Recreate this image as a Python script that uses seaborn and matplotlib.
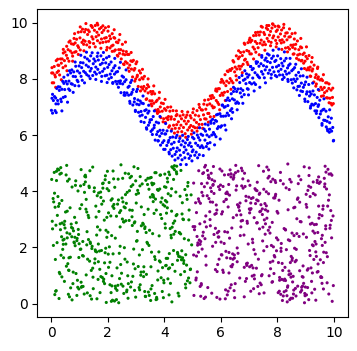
import matplotlib
matplotlib.use("Agg")
import matplotlib.pyplot as plt
import seaborn as sns
import pandas as pd

# upper band (red)
red_x = [
    0.02, 0.04, 0.06, 0.09, 0.11, 0.13, 0.15, 0.18,
    0.21, 0.24, 0.26, 0.27, 0.30, 0.33, 0.36, 0.39,
    0.42, 0.43, 0.47, 0.49, 0.51, 0.54, 0.55, 0.58,
    0.60, 0.63, 0.67, 0.68, 0.72, 0.74, 0.76, 0.79,
    0.81, 0.83, 0.85, 0.88, 0.90, 0.94, 0.96, 0.97,
    1.02, 1.03, 1.06, 1.09, 1.11, 1.14, 1.15, 1.18,
    1.20, 1.22, 1.26, 1.29, 1.31, 1.34, 1.35, 1.37,
    1.41, 1.44, 1.46, 1.48, 1.50, 1.53, 1.56, 1.59,
    1.62, 1.64, 1.65, 1.68, 1.71, 1.73, 1.77, 1.78,
    1.80, 1.83, 1.86, 1.89, 1.92, 1.94, 1.95, 1.98,
    2.01, 2.03, 2.07, 2.08, 2.10, 2.14, 2.16, 2.19,
    2.22, 2.23, 2.25, 2.27, 2.31, 2.34, 2.36, 2.39,
    2.40, 2.42, 2.46, 2.48, 2.52, 2.54, 2.55, 2.58,
    2.61, 2.63, 2.66, 2.69, 2.70, 2.73, 2.75, 2.78,
    2.82, 2.84, 2.87, 2.88, 2.91, 2.93, 2.96, 2.99,
    3.00, 3.04, 3.05, 3.08, 3.12, 3.13, 3.16, 3.19,
    3.21, 3.24, 3.25, 3.28, 3.30, 3.32, 3.37, 3.38,
    3.41, 3.43, 3.45, 3.49, 3.52, 3.54, 3.56, 3.57,
    3.60, 3.63, 3.66, 3.69, 3.71, 3.74, 3.75, 3.78,
    3.82, 3.83, 3.86, 3.88, 3.90, 3.93, 3.97, 3.98,
    4.01, 4.04, 4.06, 4.08, 4.12, 4.13, 4.15, 4.19,
    4.20, 4.24, 4.25, 4.27, 4.31, 4.33, 4.36, 4.39,
    4.42, 4.44, 4.45, 4.48, 4.50, 4.53, 4.56, 4.59,
    4.61, 4.62, 4.67, 4.68, 4.71, 4.74, 4.76, 4.78,
    4.80, 4.83, 4.85, 4.89, 4.92, 4.94, 4.95, 4.98,
    5.01, 5.03, 5.06, 5.09, 5.10, 5.14, 5.16, 5.18,
    5.22, 5.23, 5.25, 5.28, 5.31, 5.34, 5.35, 5.39,
    5.40, 5.43, 5.47, 5.48, 5.52, 5.54, 5.56, 5.58,
    5.61, 5.63, 5.66, 5.69, 5.70, 5.73, 5.75, 5.77,
    5.82, 5.84, 5.86, 5.89, 5.91, 5.93, 5.95, 5.98,
    6.00, 6.04, 6.07, 6.08, 6.11, 6.13, 6.15, 6.18,
    6.21, 6.24, 6.26, 6.29, 6.32, 6.33, 6.35, 6.38,
    6.40, 6.43, 6.46, 6.49, 6.51, 6.54, 6.55, 6.57,
    6.62, 6.64, 6.66, 6.68, 6.70, 6.73, 6.76, 6.79,
    6.81, 6.84, 6.85, 6.87, 6.92, 6.93, 6.96, 6.99,
    7.01, 7.03, 7.05, 7.08, 7.10, 7.14, 7.16, 7.19,
    7.22, 7.24, 7.25, 7.28, 7.31, 7.32, 7.36, 7.39,
    7.40, 7.43, 7.47, 7.48, 7.52, 7.53, 7.55, 7.58,
    7.61, 7.64, 7.66, 7.69, 7.70, 7.72, 7.76, 7.78,
    7.81, 7.84, 7.85, 7.87, 7.92, 7.94, 7.96, 7.98,
    8.00, 8.03, 8.06, 8.09, 8.11, 8.14, 8.15, 8.17,
    8.22, 8.23, 8.26, 8.29, 8.30, 8.34, 8.35, 8.38,
    8.41, 8.43, 8.46, 8.48, 8.52, 8.54, 8.57, 8.59,
    8.60, 8.63, 8.65, 8.68, 8.71, 8.72, 8.76, 8.79,
    8.82, 8.84, 8.86, 8.87, 8.90, 8.93, 8.95, 8.98,
    9.01, 9.04, 9.06, 9.09, 9.12, 9.13, 9.16, 9.18,
    9.21, 9.23, 9.25, 9.29, 9.30, 9.34, 9.37, 9.38,
    9.42, 9.43, 9.45, 9.48, 9.51, 9.54, 9.56, 9.59,
    9.60, 9.63, 9.66, 9.67, 9.71, 9.74, 9.75, 9.78,
    9.82, 9.83, 9.86, 9.89, 9.90, 9.93, 9.95, 9.98,
    # outer points of the band
    0.03, 0.16, 0.23, 0.36, 0.43, 0.56, 0.63, 0.76, 0.83, 0.96,
    1.03, 1.16, 1.23, 1.36, 1.43, 1.56, 1.63, 1.76, 1.83, 1.96,
    2.03, 2.16, 2.23, 2.36, 2.43, 2.56, 2.63, 2.76, 2.83, 2.96,
    3.03, 3.16, 3.23, 3.36, 3.43, 3.56, 3.63, 3.76, 3.83, 3.96,
    4.03, 4.16, 4.23, 4.36, 4.43, 4.56, 4.63, 4.76, 4.83, 4.96,
    5.03, 5.16, 5.23, 5.36, 5.43, 5.56, 5.63, 5.76, 5.83, 5.96,
    6.03, 6.16, 6.23, 6.36, 6.43, 6.56, 6.63, 6.76, 6.83, 6.96,
    7.03, 7.16, 7.23, 7.36, 7.43, 7.56, 7.63, 7.76, 7.83, 7.96,
    8.03, 8.16, 8.23, 8.36, 8.43, 8.56, 8.63, 8.76, 8.83, 8.96,
    9.03, 9.16, 9.23, 9.36, 9.43, 9.56, 9.63, 9.76, 9.83, 9.96,
]
red_y = [
    8.21, 7.86, 8.21, 7.86, 8.44, 8.14, 8.07, 8.65,
    8.23, 8.49, 8.28, 8.48, 8.14, 8.71, 8.56, 8.71,
    8.40, 8.92, 8.65, 8.96, 8.46, 8.84, 9.16, 8.73,
    9.04, 8.63, 9.35, 8.99, 9.25, 8.92, 8.81, 9.23,
    9.44, 8.95, 9.28, 8.97, 9.41, 9.18, 9.66, 9.12,
    9.46, 9.03, 9.68, 9.30, 9.77, 9.38, 9.23, 9.67,
    9.34, 9.76, 9.21, 9.58, 9.74, 9.33, 9.68, 9.29,
    9.90, 9.50, 9.83, 9.42, 9.26, 9.73, 9.90, 9.50,
    9.66, 9.36, 9.92, 9.56, 9.78, 9.28, 9.83, 9.42,
    9.65, 9.30, 9.73, 9.45, 9.82, 9.32, 9.47, 9.12,
    9.70, 9.34, 9.53, 9.10, 9.43, 9.17, 9.61, 9.20,
    9.47, 8.99, 9.45, 9.03, 9.31, 8.84, 9.29, 9.04,
    9.38, 8.91, 9.04, 8.71, 9.23, 8.88, 8.99, 8.51,
    8.86, 8.61, 8.97, 8.56, 8.87, 8.39, 8.87, 8.49,
    8.64, 8.35, 8.62, 8.07, 8.66, 8.31, 8.37, 8.00,
    8.54, 8.08, 8.13, 7.73, 8.29, 7.97, 8.21, 7.71,
    8.04, 7.64, 8.00, 7.73, 8.09, 7.57, 7.66, 7.29,
    7.79, 7.50, 7.72, 7.22, 7.55, 7.11, 7.46, 7.22,
    7.55, 7.13, 7.47, 6.89, 7.19, 6.84, 7.24, 6.91,
    7.31, 6.83, 7.00, 6.62, 7.14, 6.85, 7.12, 6.58,
    6.94, 6.45, 6.88, 6.61, 6.99, 6.55, 6.66, 6.33,
    6.85, 6.57, 6.65, 6.21, 6.87, 6.35, 6.56, 6.24,
    6.69, 6.37, 6.73, 6.11, 6.47, 6.24, 6.68, 6.35,
    6.58, 6.12, 6.72, 6.27, 6.50, 6.05, 6.63, 6.40,
    6.71, 6.18, 6.49, 6.27, 6.69, 6.34, 6.61, 6.16,
    6.80, 6.30, 6.54, 6.26, 6.71, 6.45, 6.87, 6.26,
    6.68, 6.38, 6.98, 6.55, 6.90, 6.38, 6.89, 6.72,
    7.10, 6.58, 6.92, 6.57, 7.07, 6.77, 7.26, 6.77,
    7.11, 6.65, 7.30, 7.04, 7.41, 6.97, 7.33, 6.99,
    7.58, 7.23, 7.56, 7.16, 7.65, 7.09, 7.65, 7.41,
    7.88, 7.49, 7.92, 7.42, 7.85, 7.52, 8.15, 7.76,
    7.92, 7.55, 8.26, 7.86, 8.33, 8.01, 8.30, 7.93,
    8.37, 7.86, 8.60, 8.25, 8.42, 8.11, 8.82, 8.35,
    8.72, 8.45, 8.78, 8.35, 8.94, 8.45, 8.83, 8.52,
    8.96, 8.67, 9.23, 8.70, 9.01, 8.59, 9.29, 8.98,
    9.38, 8.89, 9.31, 8.89, 9.37, 9.13, 9.54, 9.06,
    9.33, 8.95, 9.55, 9.26, 9.66, 9.11, 9.56, 9.27,
    9.67, 9.38, 9.84, 9.21, 9.65, 9.31, 9.58, 9.22,
    9.81, 9.44, 9.76, 9.34, 9.90, 9.56, 9.69, 9.30,
    9.81, 9.46, 9.94, 9.53, 9.87, 9.37, 9.69, 9.26,
    9.74, 9.49, 9.85, 9.37, 9.60, 9.28, 9.74, 9.39,
    9.82, 9.31, 9.52, 9.10, 9.63, 9.39, 9.64, 9.12,
    9.49, 9.06, 9.50, 9.20, 9.61, 9.12, 9.21, 8.89,
    9.42, 9.07, 9.23, 8.73, 9.35, 8.85, 9.04, 8.88,
    9.14, 8.64, 9.11, 8.66, 8.87, 8.56, 8.92, 8.63,
    8.80, 8.32, 8.72, 8.39, 8.83, 8.32, 8.42, 8.09,
    8.60, 8.28, 8.35, 7.89, 8.49, 8.05, 8.15, 7.82,
    8.37, 8.00, 8.07, 7.59, 7.96, 7.70, 7.99, 7.62,
    7.94, 7.40, 7.69, 7.51, 7.86, 7.33, 7.57, 7.32,
    7.66, 7.15, 7.31, 7.13, 7.60, 7.07, 7.34, 7.12,
    # outer points of the band
    8.40, 7.70, 8.70, 7.97, 9.05, 8.29, 9.31, 8.63, 9.61, 8.87,
    9.85, 9.00, 9.97, 9.13, 9.88, 9.14, 9.98, 9.09, 9.89, 9.03,
    9.86, 8.98, 9.75, 8.81, 9.58, 8.53, 9.31, 8.27, 8.94, 7.92,
    8.61, 7.57, 8.34, 7.27, 8.00, 7.04, 7.75, 6.77, 7.52, 6.47,
    7.27, 6.28, 7.00, 6.07, 6.86, 5.94, 6.84, 5.92, 6.82, 6.03,
    6.93, 6.14, 7.09, 6.24, 7.24, 6.46, 7.39, 6.66, 7.64, 6.90,
    7.98, 7.23, 8.28, 7.63, 8.65, 7.96, 9.00, 8.22, 9.27, 8.51,
    9.45, 8.71, 9.65, 8.86, 9.87, 9.02, 9.90, 9.18, 9.96, 9.14,
    9.88, 9.05, 9.94, 8.96, 9.78, 8.88, 9.63, 8.68, 9.44, 8.37,
    9.14, 8.10, 8.76, 7.74, 8.42, 7.38, 8.15, 7.86, 7.82, 7.67,
]

# lower band (blue)
blue_x = [
    0.01, 0.03, 0.05, 0.08, 0.12, 0.14, 0.16, 0.17,
    0.20, 0.23, 0.25, 0.29, 0.31, 0.34, 0.36, 0.38,
    0.41, 0.43, 0.45, 0.48, 0.50, 0.52, 0.57, 0.59,
    0.62, 0.63, 0.66, 0.69, 0.71, 0.73, 0.75, 0.78,
    0.80, 0.84, 0.86, 0.87, 0.92, 0.93, 0.95, 0.99,
    1.01, 1.04, 1.06, 1.08, 1.10, 1.13, 1.15, 1.19,
    1.21, 1.24, 1.26, 1.28, 1.32, 1.33, 1.35, 1.38,
    1.40, 1.42, 1.47, 1.49, 1.51, 1.54, 1.56, 1.58,
    1.60, 1.63, 1.65, 1.67, 1.72, 1.74, 1.76, 1.79,
    1.81, 1.82, 1.85, 1.88, 1.91, 1.93, 1.96, 1.97,
    2.00, 2.04, 2.05, 2.09, 2.12, 2.13, 2.15, 2.18,
    2.21, 2.24, 2.26, 2.28, 2.30, 2.33, 2.35, 2.38,
    2.41, 2.44, 2.45, 2.47, 2.51, 2.53, 2.56, 2.59,
    2.60, 2.62, 2.65, 2.68, 2.72, 2.74, 2.76, 2.79,
    2.81, 2.83, 2.86, 2.89, 2.90, 2.94, 2.95, 2.98,
    3.02, 3.03, 3.07, 3.09, 3.11, 3.14, 3.15, 3.18,
    3.20, 3.22, 3.26, 3.29, 3.31, 3.34, 3.36, 3.37,
    3.42, 3.44, 3.46, 3.48, 3.50, 3.53, 3.55, 3.58,
    3.61, 3.64, 3.65, 3.68, 3.72, 3.73, 3.77, 3.79,
    3.80, 3.84, 3.85, 3.87, 3.91, 3.94, 3.96, 3.99,
    4.02, 4.03, 4.05, 4.09, 4.10, 4.14, 4.16, 4.17,
    4.21, 4.23, 4.26, 4.28, 4.30, 4.32, 4.35, 4.38,
    4.41, 4.43, 4.46, 4.49, 4.52, 4.54, 4.55, 4.57,
    4.60, 4.63, 4.66, 4.69, 4.71, 4.73, 4.75, 4.77,
    4.82, 4.84, 4.86, 4.88, 4.91, 4.93, 4.96, 4.99,
    5.00, 5.02, 5.05, 5.08, 5.11, 5.13, 5.17, 5.19,
    5.21, 5.24, 5.26, 5.27, 5.30, 5.33, 5.36, 5.38,
    5.41, 5.44, 5.46, 5.49, 5.51, 5.53, 5.55, 5.59,
    5.60, 5.62, 5.65, 5.68, 5.71, 5.74, 5.76, 5.78,
    5.81, 5.83, 5.85, 5.88, 5.90, 5.92, 5.97, 5.99,
    6.01, 6.03, 6.06, 6.09, 6.12, 6.14, 6.16, 6.17,
    6.20, 6.23, 6.25, 6.28, 6.31, 6.34, 6.37, 6.39,
    6.41, 6.42, 6.45, 6.48, 6.50, 6.53, 6.56, 6.58,
    6.61, 6.63, 6.67, 6.69, 6.71, 6.74, 6.75, 6.78,
    6.80, 6.83, 6.86, 6.89, 6.91, 6.94, 6.95, 6.97,
    7.00, 7.02, 7.06, 7.09, 7.11, 7.13, 7.15, 7.18,
    7.21, 7.23, 7.26, 7.29, 7.30, 7.33, 7.35, 7.37,
    7.42, 7.44, 7.45, 7.49, 7.51, 7.54, 7.56, 7.57,
    7.60, 7.62, 7.65, 7.68, 7.71, 7.73, 7.75, 7.79,
    7.80, 7.83, 7.86, 7.88, 7.91, 7.93, 7.95, 7.97,
    8.01, 8.04, 8.05, 8.08, 8.12, 8.13, 8.16, 8.19,
    8.20, 8.24, 8.25, 8.28, 8.31, 8.33, 8.36, 8.37,
    8.40, 8.42, 8.45, 8.49, 8.51, 8.53, 8.56, 8.58,
    8.61, 8.64, 8.66, 8.69, 8.70, 8.73, 8.75, 8.78,
    8.81, 8.83, 8.85, 8.89, 8.91, 8.92, 8.96, 8.97,
    9.00, 9.03, 9.05, 9.08, 9.11, 9.14, 9.15, 9.17,
    9.20, 9.22, 9.26, 9.28, 9.31, 9.33, 9.35, 9.39,
    9.41, 9.44, 9.46, 9.47, 9.50, 9.52, 9.55, 9.58,
    9.61, 9.64, 9.65, 9.69, 9.72, 9.73, 9.76, 9.77,
    9.80, 9.84, 9.85, 9.87, 9.91, 9.92, 9.96, 9.99,
    # outer points of the band
    0.05, 0.18, 0.25, 0.38, 0.45, 0.58, 0.65, 0.78, 0.85, 0.98,
    1.05, 1.18, 1.25, 1.38, 1.45, 1.58, 1.65, 1.78, 1.85, 1.98,
    2.05, 2.18, 2.25, 2.38, 2.45, 2.58, 2.65, 2.78, 2.85, 2.98,
    3.05, 3.18, 3.25, 3.38, 3.45, 3.58, 3.65, 3.78, 3.85, 3.98,
    4.05, 4.18, 4.25, 4.38, 4.45, 4.58, 4.65, 4.78, 4.85, 4.98,
    5.05, 5.18, 5.25, 5.38, 5.45, 5.58, 5.65, 5.78, 5.85, 5.98,
    6.05, 6.18, 6.25, 6.38, 6.45, 6.58, 6.65, 6.78, 6.85, 6.98,
    7.05, 7.18, 7.25, 7.38, 7.45, 7.58, 7.65, 7.78, 7.85, 7.98,
    8.05, 8.18, 8.25, 8.38, 8.45, 8.58, 8.65, 8.78, 8.85, 8.98,
    9.05, 9.18, 9.25, 9.38, 9.45, 9.58, 9.65, 9.78, 9.85, 9.98,
]
blue_y = [
    6.88, 7.31, 6.78, 7.23, 7.37, 6.87, 7.32, 7.11,
    7.66, 7.23, 7.11, 7.59, 7.71, 7.28, 7.19, 7.63,
    7.91, 7.34, 7.84, 7.62, 7.37, 7.91, 7.82, 8.14,
    7.64, 7.92, 7.59, 8.21, 7.83, 8.32, 7.81, 8.09,
    8.25, 7.76, 8.08, 8.45, 7.95, 8.28, 7.90, 8.46,
    8.21, 8.58, 8.09, 8.40, 7.95, 8.57, 8.27, 8.77,
    8.22, 8.49, 8.15, 8.71, 8.43, 8.10, 8.64, 8.28,
    8.82, 8.37, 8.12, 8.54, 8.71, 8.24, 8.63, 8.42,
    8.17, 8.80, 8.34, 8.67, 8.22, 8.51, 8.82, 8.09,
    8.56, 8.27, 8.69, 8.36, 8.11, 8.57, 8.75, 8.13,
    8.41, 8.00, 8.51, 8.17, 8.60, 8.05, 8.29, 7.87,
    8.39, 8.17, 8.47, 7.91, 8.24, 7.82, 8.26, 7.91,
    8.39, 7.84, 7.93, 7.51, 8.10, 7.82, 8.06, 7.51,
    7.90, 7.42, 7.97, 7.50, 7.70, 7.42, 7.74, 7.13,
    7.87, 7.45, 7.52, 7.07, 7.62, 7.18, 7.30, 6.88,
    7.55, 7.10, 7.25, 6.81, 7.08, 6.68, 7.21, 6.84,
    7.14, 6.71, 7.12, 6.45, 6.87, 6.63, 6.90, 6.26,
    6.78, 6.35, 6.85, 6.45, 6.54, 6.13, 6.55, 6.19,
    6.66, 6.26, 6.35, 5.82, 6.46, 6.02, 6.12, 5.80,
    6.43, 5.96, 6.17, 5.64, 6.06, 5.73, 6.17, 5.80,
    6.04, 5.49, 6.04, 5.63, 6.15, 5.74, 5.81, 5.39,
    5.91, 5.48, 5.68, 5.25, 5.93, 5.53, 5.74, 5.31,
    5.91, 5.41, 5.54, 5.18, 5.77, 5.46, 5.88, 5.28,
    5.65, 5.12, 5.79, 5.38, 5.58, 5.19, 5.72, 5.47,
    5.84, 5.33, 5.64, 5.17, 5.72, 5.26, 5.59, 5.41,
    5.92, 5.47, 5.87, 5.28, 5.71, 5.39, 6.00, 5.63,
    5.91, 5.30, 5.82, 5.56, 6.03, 5.62, 5.99, 5.55,
    6.21, 5.82, 6.14, 5.59, 6.00, 5.70, 6.36, 5.94,
    6.21, 5.73, 6.42, 6.00, 6.56, 6.09, 6.42, 6.02,
    6.52, 5.94, 6.49, 6.23, 6.74, 6.30, 6.76, 6.28,
    6.67, 6.33, 7.07, 6.67, 6.99, 6.35, 7.01, 6.68,
    7.24, 6.78, 7.05, 6.70, 7.23, 6.87, 7.47, 6.94,
    7.29, 6.81, 7.55, 7.25, 7.65, 7.13, 7.55, 7.18,
    7.64, 7.13, 7.87, 7.50, 7.65, 7.36, 8.12, 7.59,
    7.95, 7.44, 7.99, 7.83, 8.18, 7.65, 8.06, 7.63,
    8.14, 7.87, 8.44, 7.82, 8.33, 8.03, 8.37, 7.86,
    8.22, 7.80, 8.55, 8.14, 8.60, 8.08, 8.45, 8.04,
    8.54, 8.26, 8.77, 8.17, 8.47, 8.04, 8.67, 8.32,
    8.74, 8.43, 8.62, 8.20, 8.85, 8.31, 8.58, 8.16,
    8.73, 8.41, 8.81, 8.25, 8.62, 8.12, 8.66, 8.43,
    8.82, 8.27, 8.48, 8.14, 8.72, 8.34, 8.56, 8.14,
    8.46, 8.05, 8.64, 8.27, 8.73, 8.17, 8.39, 7.98,
    8.48, 8.21, 8.53, 7.97, 8.29, 7.85, 8.34, 7.99,
    8.40, 7.91, 8.13, 7.61, 8.00, 7.73, 8.23, 7.74,
    8.10, 7.57, 7.85, 7.55, 8.11, 7.70, 7.79, 7.28,
    7.89, 7.46, 7.54, 7.19, 7.80, 7.39, 7.54, 6.96,
    7.46, 7.10, 7.57, 7.07, 7.43, 6.86, 7.12, 6.86,
    7.34, 7.02, 7.08, 6.62, 7.24, 6.75, 6.85, 6.35,
    6.90, 6.53, 6.92, 6.52, 6.85, 6.29, 6.49, 6.21,
    6.65, 6.10, 6.44, 6.21, 6.60, 6.14, 6.27, 5.81,
    # outer points of the band
    7.45, 6.80, 7.72, 6.86, 8.06, 7.17, 8.29, 7.52, 8.60, 7.75,
    8.84, 7.86, 8.95, 8.01, 8.93, 7.98, 8.92, 7.91, 8.94, 7.87,
    8.80, 7.84, 8.73, 7.70, 8.59, 7.42, 8.32, 7.20, 7.95, 6.84,
    7.63, 6.48, 7.39, 6.21, 7.06, 6.02, 6.86, 5.79, 6.66, 5.49,
    6.41, 5.33, 6.14, 5.11, 5.99, 4.95, 5.99, 4.95, 5.95, 5.08,
    6.08, 5.19, 6.26, 5.27, 6.39, 5.50, 6.50, 5.65, 6.72, 5.86,
    7.06, 6.18, 7.32, 6.58, 7.70, 6.90, 8.05, 7.13, 8.29, 7.43,
    8.44, 7.57, 8.61, 7.70, 8.83, 7.86, 8.89, 8.03, 9.02, 8.08,
    9.06, 7.98, 8.96, 7.91, 8.73, 7.68, 8.52, 7.41, 8.36, 7.20,
    8.06, 7.03, 7.85, 6.77, 7.62, 6.41, 7.29, 6.15, 6.90, 5.79,
]

# lower-left block (green)
green_x = [
    3.41, 0.87, 2.15, 4.62, 1.08, 3.97, 0.23, 2.76, 4.05, 1.59,
    2.33, 4.81, 0.46, 1.92, 3.18, 0.71, 4.27, 2.58, 1.34, 3.66,
    0.12, 2.97, 4.44, 1.73, 3.05, 0.95, 2.41, 4.13, 1.26, 3.82,
    4.69, 1.47, 0.38, 3.29, 2.06, 4.91, 1.85, 0.64, 3.53, 2.87,
    1.16, 3.74, 2.22, 0.05, 4.36, 2.69, 0.81, 3.11, 1.63, 4.58,
    2.94, 0.29, 4.07, 1.38, 3.46, 2.11, 4.75, 0.57, 1.99, 3.23,
    0.93, 3.59, 1.21, 4.48, 2.52, 0.16, 3.87, 1.67, 4.19, 2.38,
    4.02, 1.94, 3.32, 0.74, 2.81, 4.56, 1.05, 3.71, 0.42, 2.17,
    1.78, 4.33, 0.61, 2.64, 3.92, 1.29, 4.86, 2.03, 0.34, 3.48,
    3.15, 0.08, 2.46, 4.22, 1.54, 3.63, 0.89, 2.72, 4.64, 1.11,
    2.57, 4.95, 1.42, 0.27, 3.36, 2.89, 4.11, 0.68, 1.83, 3.02,
    0.49, 2.28, 3.79, 1.69, 4.47, 0.97, 2.13, 3.54, 1.31, 4.29,
    3.88, 1.03, 4.71, 2.36, 0.19, 3.27, 1.76, 4.03, 2.67, 0.55,
    1.47, 3.14, 0.83, 4.54, 2.99, 1.18, 3.68, 0.31, 2.44, 4.82,
    4.26, 2.08, 1.61, 3.43, 0.72, 4.17, 2.53, 1.24, 3.96, 0.04,
    2.71, 0.37, 3.85, 1.89, 4.63, 2.19, 0.98, 3.31, 1.57, 4.41,
    0.66, 4.09, 2.31, 3.58, 1.14, 0.43, 4.88, 2.84, 3.07, 1.72,
    3.62, 1.36, 4.32, 0.18, 2.62, 3.91, 1.93, 0.79, 4.52, 2.25,
    1.09, 2.79, 0.54, 4.14, 3.39, 1.66, 2.05, 4.76, 0.26, 3.19,
    4.43, 0.91, 3.01, 2.49, 1.28, 4.68, 0.63, 3.76, 2.14, 1.81,
    2.02, 3.47, 1.53, 0.33, 4.23, 2.91, 0.77, 3.64, 1.19, 4.97,
    0.22, 4.59, 2.68, 1.44, 3.26, 0.58, 4.04, 2.39, 3.83, 1.02,
    3.34, 1.71, 0.14, 2.93, 4.38, 1.27, 3.57, 0.86, 2.56, 4.12,
    1.88, 4.26, 3.12, 0.69, 2.21, 4.79, 1.39, 3.94, 0.47, 2.74,
    4.84, 2.42, 0.96, 3.69, 1.56, 0.28, 2.86, 4.31, 1.97, 3.37,
    0.59, 3.06, 4.49, 1.12, 2.66, 3.81, 0.11, 2.27, 4.66, 1.64,
    2.35, 0.82, 1.91, 4.07, 3.52, 2.12, 4.93, 0.39, 3.22, 1.49,
    3.99, 1.23, 2.59, 0.53, 4.34, 1.76, 3.09, 4.61, 0.92, 2.83,
    1.32, 4.72, 0.24, 3.44, 2.04, 0.76, 3.73, 1.58, 4.18, 2.47,
    4.11, 2.96, 1.07, 2.31, 0.44, 3.56, 4.53, 1.86, 0.07, 3.28,
    0.88, 3.67, 4.24, 1.62, 2.78, 0.35, 1.98, 4.87, 3.13, 2.54,
    2.63, 1.17, 3.41, 4.39, 0.62, 2.18, 3.89, 1.06, 4.57, 0.99,
    3.53, 0.17, 2.08, 1.52, 4.02, 3.33, 0.73, 2.92, 1.35, 4.45,
    1.94, 4.06, 0.51, 3.17, 2.48, 1.22, 4.79, 3.61, 0.32, 2.24,
    4.36, 2.61, 3.77, 0.84, 1.68, 4.92, 2.37, 0.13, 3.46, 1.79,
    0.41, 1.97, 4.16, 2.73, 3.04, 0.67, 1.43, 4.28, 2.99, 3.86,
    2.87, 3.93, 1.26, 0.02, 4.47, 2.15, 3.58, 1.84, 0.78, 4.21,
    3.71, 0.56, 2.51, 4.65, 1.04, 3.24, 0.94, 2.46, 4.08, 1.37,
    1.61, 4.44, 0.31, 2.22, 3.66, 1.91, 4.01, 0.48, 3.15, 2.69,
    4.73, 2.33, 3.87, 1.45, 0.19, 2.95, 1.73, 3.51, 4.33, 0.65,
    0.98, 3.19, 1.85, 4.12, 2.58, 0.38, 3.78, 2.12, 1.21, 4.86,
    2.16, 0.74, 4.58, 3.08, 1.33, 4.27, 0.21, 2.77, 3.98, 1.55,
    3.27, 1.82, 0.09, 2.44, 4.69, 1.13, 3.42, 4.15, 0.57, 2.01,
    1.38, 4.51, 2.84, 0.91, 3.61, 2.27, 1.06, 4.42, 3.35, 0.29,
    4.19, 0.46, 3.31, 1.75, 2.03, 4.83, 2.62, 0.85, 1.48, 3.72,
    0.63, 2.54, 4.37, 3.49, 1.24, 0.15, 4.04, 1.95, 2.89, 3.55,
    2.42, 3.84, 1.67, 0.52, 4.76, 3.01, 0.36, 2.19, 4.25, 1.89,
]
green_y = [
    2.14, 4.37, 0.63, 1.88, 3.52, 0.21, 4.79, 2.96, 1.35, 3.08,
    0.47, 3.71, 2.29, 4.55, 1.12, 2.83, 0.06, 3.44, 4.18, 1.67,
    3.93, 1.24, 4.62, 0.39, 2.57, 4.01, 1.79, 0.88, 3.26, 2.41,
    1.53, 4.86, 0.95, 3.17, 2.02, 0.74, 3.65, 4.43, 1.31, 2.78,
    4.24, 0.16, 3.39, 2.66, 4.91, 1.48, 2.19, 0.57, 3.84, 1.03,
    2.87, 3.56, 1.61, 0.28, 4.07, 3.12, 0.69, 2.34, 4.71, 1.92,
    0.83, 2.49, 4.33, 1.76, 3.01, 0.44, 4.58, 2.12, 1.27, 3.69,
    3.47, 1.07, 2.73, 4.15, 0.59, 3.82, 1.94, 4.66, 2.26, 0.12,
    1.89, 4.42, 0.33, 2.95, 3.76, 1.58, 0.91, 3.23, 4.84, 2.61,
    4.52, 2.07, 3.31, 0.72, 1.44, 4.27, 2.88, 0.19, 3.59, 1.71,
    0.36, 3.87, 1.18, 4.76, 2.53, 0.97, 3.41, 1.65, 4.11, 2.22,
    2.69, 0.54, 4.03, 3.28, 1.82, 2.46, 0.08, 4.49, 3.14, 1.39,
    3.61, 1.93, 2.31, 0.65, 4.38, 1.13, 3.78, 2.84, 0.42, 4.92,
    1.26, 4.19, 3.07, 2.52, 0.23, 3.96, 1.57, 4.61, 2.04, 0.81,
    4.09, 0.67, 1.84, 3.36, 2.71, 0.31, 4.46, 1.02, 3.52, 2.93,
    0.99, 2.38, 4.57, 1.45, 3.19, 4.72, 0.52, 2.67, 1.86, 3.97,
    2.48, 3.62, 0.14, 4.23, 1.69, 2.11, 3.33, 0.77, 4.81, 1.22,
    3.79, 1.51, 2.86, 0.46, 4.64, 3.03, 1.97, 2.59, 0.27, 4.14,
    0.61, 4.48, 1.33, 3.91, 2.18, 0.86, 4.31, 1.74, 3.46, 2.77,
    4.69, 2.24, 3.58, 1.08, 0.38, 2.99, 1.63, 4.06, 2.42, 0.93,
    1.76, 0.29, 4.12, 2.63, 3.84, 1.41, 0.71, 3.21, 4.53, 2.09,
    3.14, 4.74, 0.48, 1.96, 2.82, 4.36, 3.67, 0.03, 1.52, 3.38,
    0.25, 1.87, 3.43, 4.87, 1.15, 2.56, 0.64, 4.21, 2.91, 1.61,
    2.97, 3.29, 1.73, 0.56, 4.44, 3.86, 2.14, 1.28, 0.79, 4.62,
    4.31, 0.89, 2.64, 3.72, 1.91, 0.18, 3.09, 4.83, 2.36, 1.04,
    1.42, 4.03, 0.37, 2.21, 3.57, 1.84, 4.67, 0.62, 3.01, 2.73,
    3.54, 2.16, 4.41, 1.36, 0.11, 3.68, 1.23, 2.87, 4.26, 0.53,
    0.74, 3.36, 1.99, 4.58, 2.47, 0.96, 3.93, 1.56, 2.32, 4.17,
    2.28, 1.14, 3.81, 0.41, 4.02, 2.68, 0.22, 3.47, 1.78, 4.94,
    4.46, 2.91, 0.58, 3.11, 1.63, 4.29, 2.53, 0.87, 3.74, 1.31,
    1.07, 4.66, 2.43, 0.17, 3.33, 1.72, 4.09, 2.98, 0.49, 3.62,
    3.88, 0.34, 4.24, 2.57, 1.19, 3.46, 0.92, 4.77, 1.66, 2.13,
    0.52, 2.79, 1.47, 3.99, 4.61, 0.26, 2.38, 1.94, 4.13, 3.17,
    2.61, 4.14, 3.26, 1.01, 0.69, 4.51, 1.37, 3.63, 2.84, 0.09,
    4.77, 1.58, 0.84, 2.36, 3.94, 1.21, 4.43, 0.32, 2.07, 3.54,
    1.93, 3.07, 4.68, 0.71, 2.24, 3.41, 0.16, 2.72, 4.37, 1.48,
    3.32, 0.43, 2.09, 4.42, 1.54, 0.99, 3.88, 4.29, 1.12, 2.67,
    0.14, 2.52, 3.76, 1.63, 4.19, 2.86, 0.58, 1.39, 3.22, 4.73,
    2.44, 4.89, 1.06, 3.53, 0.36, 1.81, 4.16, 2.93, 0.67, 3.96,
    4.06, 1.27, 3.17, 2.04, 4.71, 0.47, 2.62, 3.79, 1.89, 0.24,
    1.64, 3.44, 0.79, 4.33, 2.91, 3.67, 1.16, 0.39, 4.57, 2.26,
    3.73, 0.13, 2.48, 1.32, 3.06, 4.87, 2.17, 4.02, 0.83, 1.59,
    0.96, 4.27, 3.62, 2.73, 1.43, 0.61, 4.46, 1.24, 3.29, 2.54,
    2.19, 1.68, 4.53, 0.29, 3.86, 2.33, 0.76, 3.13, 4.39, 1.11,
    4.59, 2.81, 0.43, 3.97, 1.29, 4.18, 3.41, 2.06, 0.94, 3.33,
    1.18, 0.62, 2.94, 4.47, 3.71, 1.57, 2.69, 0.04, 4.23, 1.83,
    3.24, 4.08, 1.49, 2.12, 0.56, 3.89, 4.64, 1.77, 2.34, 0.71,
]

# lower-right block (purple)
purple_x = [
    7.38, 5.12, 9.46, 6.21, 8.77, 5.64, 9.03, 7.91, 6.58, 8.24,
    5.87, 9.72, 6.93, 8.31, 7.06, 5.29, 8.95, 6.42, 9.58, 7.63,
    8.49, 6.14, 5.41, 9.27, 7.75, 8.08, 6.66, 9.89, 5.18, 7.22,
    6.37, 8.62, 9.14, 5.73, 7.49, 6.89, 8.41, 5.05, 9.66, 7.97,
    9.31, 7.14, 5.96, 8.86, 6.03, 9.79, 7.57, 6.48, 8.18, 5.52,
    5.33, 8.03, 7.68, 6.29, 9.41, 5.81, 8.54, 7.01, 6.72, 9.93,
    7.84, 6.56, 9.12, 5.24, 8.37, 7.29, 5.69, 9.54, 6.11, 8.91,
    6.04, 9.37, 8.26, 7.42, 5.47, 6.83, 9.84, 8.69, 5.92, 7.16,
    8.97, 5.58, 6.31, 9.69, 7.88, 5.14, 8.13, 6.97, 9.21, 7.54,
    5.76, 7.33, 9.48, 8.44, 6.19, 7.79, 5.36, 9.06, 8.58, 6.67,
    9.16, 6.46, 7.09, 5.63, 8.82, 9.74, 6.24, 7.47, 5.04, 8.35,
    7.52, 8.89, 5.28, 6.78, 9.33, 7.11, 8.46, 5.97, 6.39, 9.61,
    6.86, 5.43, 8.21, 9.52, 7.36, 6.02, 9.97, 8.07, 7.71, 5.82,
    8.29, 7.04, 6.61, 5.16, 9.09, 8.74, 5.54, 6.94, 9.44, 7.27,
    5.49, 9.24, 7.93, 8.57, 6.27, 5.88, 7.61, 9.77, 6.49, 8.11,
    9.62, 6.73, 5.34, 7.18, 8.93, 6.36, 9.18, 5.71, 8.39, 7.44,
    7.02, 8.48, 9.86, 6.08, 5.61, 8.16, 7.86, 6.53, 5.21, 9.29,
    6.44, 5.93, 8.71, 9.41, 7.58, 9.02, 6.17, 8.32, 7.24, 5.07,
    8.64, 7.69, 6.34, 5.39, 9.57, 7.13, 5.78, 9.94, 6.82, 8.02,
    5.19, 9.08, 7.39, 8.81, 6.64, 5.53, 8.27, 7.07, 9.36, 6.23,
    9.81, 6.91, 8.44, 7.31, 5.27, 9.47, 6.42, 8.76, 5.68, 7.82,
    7.46, 5.08, 6.71, 9.13, 8.52, 6.26, 7.94, 5.44, 9.68, 8.19,
    6.13, 8.34, 9.59, 5.86, 7.21, 8.67, 5.31, 6.99, 8.04, 9.26,
    8.86, 7.56, 5.74, 6.48, 9.91, 7.03, 8.59, 6.16, 5.47, 7.67,
    5.62, 9.38, 8.12, 7.77, 6.09, 5.23, 9.71, 8.42, 7.19, 6.58,
    9.04, 6.36, 7.48, 5.13, 8.73, 9.63, 6.74, 5.94, 8.28, 7.34,
    7.89, 8.96, 6.22, 9.32, 5.58, 7.12, 8.41, 9.78, 6.51, 5.37,
    6.79, 5.26, 9.19, 8.06, 7.53, 6.33, 5.84, 8.88, 9.52, 7.97,
    8.23, 7.41, 5.66, 6.92, 9.43, 8.53, 7.28, 5.02, 6.68, 9.11,
    5.91, 9.67, 8.36, 7.63, 6.18, 9.89, 5.46, 7.84, 8.61, 6.44,
    9.34, 6.07, 7.73, 5.56, 8.17, 6.87, 9.23, 6.29, 7.51, 8.92,
    7.26, 8.79, 5.32, 9.82, 6.56, 7.92, 8.49, 5.76, 9.07, 6.01,
    6.52, 5.71, 8.91, 7.08, 9.56, 5.17, 6.46, 8.24, 7.66, 9.73,
    8.54, 9.27, 6.63, 8.14, 5.43, 7.37, 9.98, 6.77, 5.89, 7.14,
    5.38, 7.81, 9.64, 6.24, 8.66, 5.99, 7.23, 9.16, 8.31, 6.91,
    9.49, 6.69, 5.22, 8.47, 7.32, 8.99, 6.12, 5.59, 9.38, 7.76,
    7.17, 9.12, 8.58, 5.81, 6.39, 7.61, 9.54, 8.02, 6.84, 5.11,
    6.28, 5.48, 7.99, 9.36, 8.83, 6.61, 5.67, 7.43, 9.92, 8.37,
    8.72, 7.27, 6.04, 5.52, 9.27, 8.11, 7.74, 6.31, 5.29, 9.63,
    5.84, 8.56, 9.41, 7.02, 6.47, 5.36, 8.79, 9.11, 7.58, 6.71,
    9.24, 6.89, 7.36, 8.67, 5.72, 9.76, 6.26, 7.91, 8.48, 5.57,
    7.63, 5.14, 8.29, 6.54, 9.87, 7.47, 5.97, 8.84, 6.19, 9.32,
    6.94, 9.58, 5.42, 7.83, 8.13, 6.36, 9.03, 5.27, 7.29, 8.69,
    8.38, 7.06, 9.69, 5.63, 6.76, 8.98, 7.52, 6.06, 9.44, 5.93,
    5.31, 8.21, 6.43, 9.17, 7.71, 5.79, 8.63, 9.83, 6.97, 7.38,
    9.71, 6.18, 7.87, 5.46, 8.44, 7.18, 6.59, 9.22, 5.04, 8.08,
    7.94, 9.46, 5.86, 6.83, 9.02, 8.52, 5.21, 7.69, 6.33, 9.59,
]
purple_y = [
    3.27, 0.84, 4.51, 1.63, 2.39, 4.12, 0.31, 3.76, 1.98, 2.67,
    1.14, 4.68, 2.93, 0.46, 3.58, 2.21, 4.87, 1.39, 0.72, 3.04,
    4.33, 2.56, 0.18, 3.92, 1.47, 0.93, 3.31, 4.62, 2.08, 1.76,
    0.67, 3.43, 1.89, 4.24, 2.72, 3.66, 1.03, 0.29, 4.46, 2.34,
    2.81, 1.27, 4.06, 0.58, 3.19, 4.78, 2.47, 1.62, 0.11, 3.84,
    3.96, 0.39, 2.61, 1.82, 4.31, 1.21, 0.77, 3.37, 2.94, 4.57,
    1.51, 4.19, 3.08, 2.26, 0.63, 2.88, 4.41, 0.96, 3.63, 1.34,
    4.72, 2.12, 0.87, 3.52, 1.69, 0.24, 3.87, 2.49, 4.16, 0.53,
    0.36, 3.74, 2.33, 4.89, 1.07, 3.24, 1.86, 4.37, 0.79, 2.98,
    2.46, 1.58, 4.28, 0.14, 3.71, 2.07, 4.63, 1.19, 3.41, 0.91,
    3.81, 4.49, 1.36, 2.77, 0.41, 4.08, 2.54, 3.17, 1.73, 0.06,
    1.88, 0.62, 3.57, 4.44, 2.21, 0.98, 1.46, 4.79, 2.69, 3.36,
    4.17, 2.91, 0.27, 1.56, 3.89, 1.74, 3.12, 0.44, 4.53, 2.18,
    0.82, 3.34, 4.71, 2.39, 1.24, 4.27, 0.57, 2.86, 1.41, 3.69,
    2.73, 1.09, 3.83, 0.34, 4.59, 2.52, 3.98, 1.67, 0.21, 4.38,
    3.48, 4.82, 1.94, 3.06, 0.72, 1.33, 4.14, 3.61, 2.27, 0.99,
    1.31, 0.19, 2.68, 4.17, 3.27, 0.86, 2.02, 4.92, 3.73, 1.57,
    4.43, 2.37, 3.71, 1.12, 2.84, 3.53, 0.49, 1.92, 4.04, 2.63,
    0.54, 3.91, 1.61, 4.66, 0.93, 2.17, 4.36, 0.08, 2.44, 3.22,
    2.16, 4.03, 0.73, 2.92, 3.46, 4.74, 1.29, 3.38, 1.84, 0.31,
    3.68, 1.42, 4.42, 0.61, 2.11, 3.04, 1.77, 4.54, 0.37, 2.89,
    1.03, 2.74, 3.16, 4.83, 1.54, 0.44, 3.89, 2.31, 4.26, 1.18,
    4.58, 0.28, 2.07, 3.33, 4.09, 1.93, 0.66, 3.79, 1.46, 2.58,
    0.47, 3.56, 4.88, 1.73, 2.96, 4.21, 2.42, 0.17, 3.12, 4.47,
    2.99, 1.68, 0.33, 4.34, 1.11, 3.64, 2.77, 4.06, 0.88, 1.49,
    3.43, 4.62, 2.23, 0.91, 3.76, 0.52, 4.19, 1.58, 2.64, 4.91,
    1.71, 0.03, 3.97, 2.51, 4.48, 2.29, 1.16, 3.47, 0.71, 3.84,
    4.11, 2.84, 1.27, 3.68, 0.38, 4.76, 3.21, 0.96, 4.33, 1.88,
    0.83, 3.29, 4.64, 1.36, 2.53, 1.62, 4.02, 2.74, 3.58, 0.14,
    2.37, 4.16, 0.58, 2.03, 3.92, 3.31, 0.23, 4.43, 1.97, 3.06,
    3.87, 1.19, 2.72, 4.57, 1.43, 0.79, 2.86, 1.09, 4.71, 2.48,
    1.26, 3.61, 4.27, 0.34, 3.15, 4.38, 1.68, 3.92, 0.57, 2.19,
    4.66, 2.04, 0.94, 3.74, 2.31, 1.13, 4.58, 0.42, 3.29, 1.81,
    0.19, 4.33, 3.43, 2.14, 4.86, 2.66, 0.64, 2.96, 1.39, 3.77,
    2.54, 0.76, 1.83, 3.91, 0.27, 4.22, 3.56, 1.71, 4.12, 0.89,
    3.17, 2.42, 4.73, 1.06, 3.66, 0.59, 2.14, 4.46, 2.82, 1.24,
    1.92, 4.56, 0.48, 2.68, 1.31, 3.48, 0.93, 2.27, 4.64, 3.59,
    4.24, 1.37, 3.28, 0.12, 4.41, 1.79, 3.99, 0.67, 2.34, 4.97,
    0.62, 2.87, 1.73, 4.29, 2.06, 4.67, 2.51, 3.86, 0.26, 1.46,
    3.51, 0.97, 4.39, 3.23, 0.46, 2.41, 1.17, 4.18, 3.34, 2.73,
    2.09, 3.82, 0.35, 1.54, 4.21, 0.74, 3.44, 1.66, 0.94, 4.48,
    4.86, 1.69, 2.62, 4.04, 2.79, 3.37, 0.16, 2.91, 3.71, 0.51,
    1.44, 3.13, 4.16, 0.78, 1.97, 4.51, 2.36, 0.61, 4.32, 3.02,
    3.34, 0.44, 2.18, 3.62, 4.73, 0.28, 4.07, 3.27, 1.14, 2.57,
    0.71, 4.26, 1.58, 2.83, 0.99, 3.18, 1.49, 4.61, 2.12, 3.93,
    2.66, 1.86, 3.76, 4.92, 2.24, 1.01, 3.52, 0.38, 4.29, 0.83,
    4.31, 3.47, 0.22, 1.29, 3.89, 2.51, 1.83, 4.76, 0.56, 2.43,
]

groups = ["red", "blue", "green", "purple"]
xs = [red_x, blue_x, green_x, purple_x]
ys = [red_y, blue_y, green_y, purple_y]

frames = []
for g, x, y in zip(groups, xs, ys):
    frames.append(pd.DataFrame({"x": x, "y": y, "group": g}))
df = pd.concat(frames, ignore_index=True)

fig, ax = plt.subplots(figsize=(3.57, 3.51), dpi=100)
sns.scatterplot(
    data=df,
    x="x",
    y="y",
    hue="group",
    palette={g: g for g in groups},
    s=5,
    linewidth=0,
    legend=False,
    ax=ax,
)
ax.set_xlabel("")
ax.set_ylabel("")
ax.set_xticks([0, 2, 4, 6, 8, 10])
ax.set_yticks([0, 2, 4, 6, 8, 10])

plt.subplots_adjust(left=0.1045, right=0.974, top=0.9735, bottom=0.0977)
plt.savefig("out.png", dpi=100)
